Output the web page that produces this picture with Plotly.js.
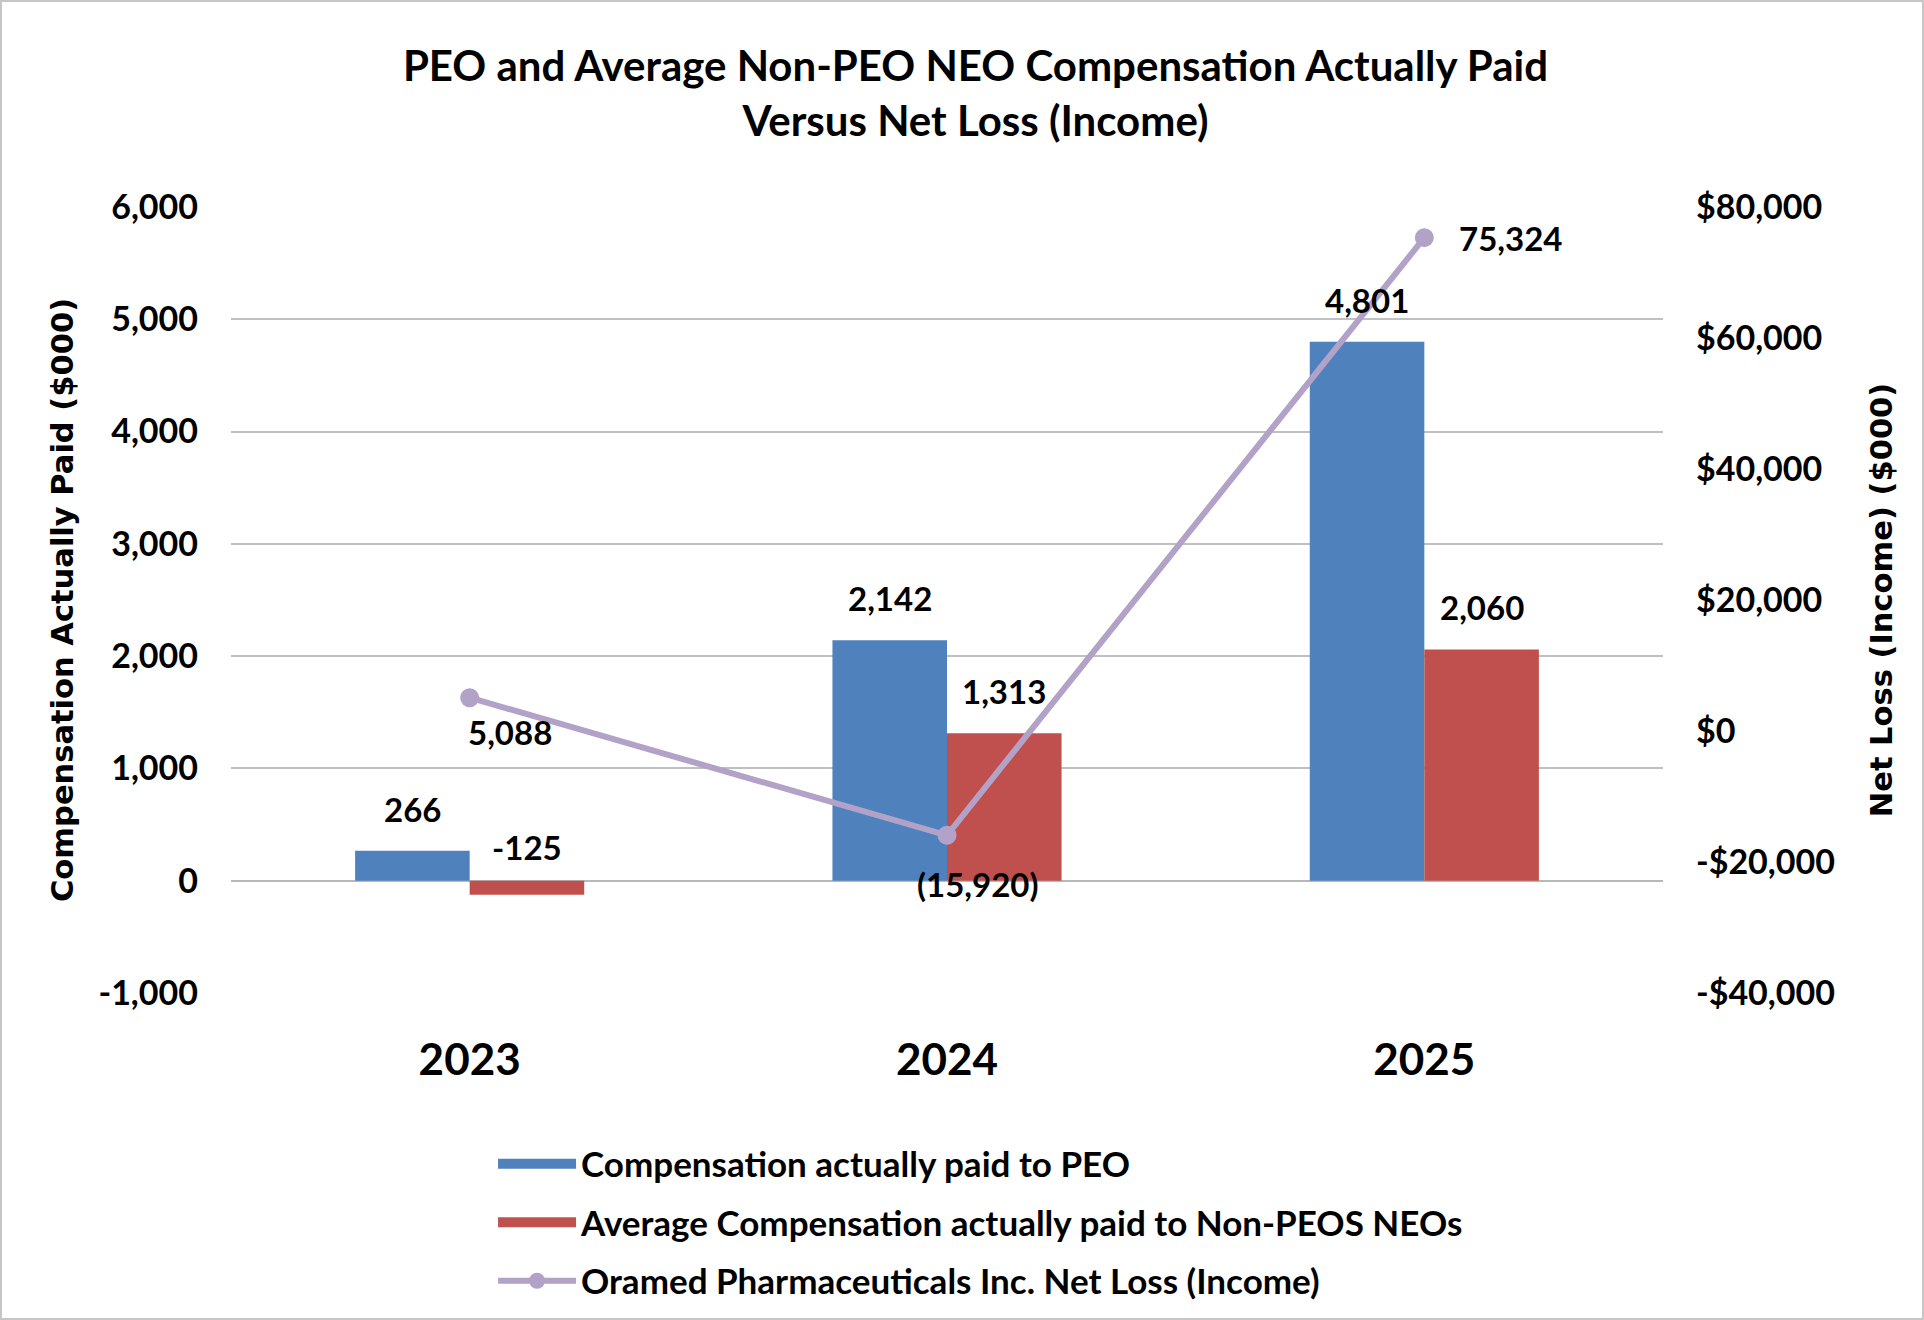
<!DOCTYPE html>
<html>
<head>
<meta charset="utf-8">
<script src="https://cdn.plot.ly/plotly-3.0.1.min.js"></script>
<style>
    html, body { margin: 0; background: #fff; overflow: hidden; }
    #chart1 { width: 1924px; height: 1400px; }
    #frame { position: fixed; left: 0; top: 0; width: 1924px; height: 1320px;
             border: 2px solid #c6c6c6; box-sizing: border-box; pointer-events: none; }
</style>
</head>
<body>
<div id="chart1"></div>
<div id="frame"></div>
<script>
var years = ["2023", "2024", "2025"];
var peoPaid = [266, 2142, 4801];
var neoPaid = [-125, 1313, 2060];
var netLoss = [5088, -15920, 75324];
var leftTicks = [-1000, 0, 1000, 2000, 3000, 4000, 5000, 6000];
var rightTicks = [-40000, -20000, 0, 20000, 40000, 60000, 80000];

var peoName = "Compensation actually paid to PEO";
var neoName = "Average Compensation actually paid to Non-PEOS NEOs";
var lossName = "Oramed Pharmaceuticals Inc. Net Loss (Income)";

var blue = "#4F81BD", red = "#C0504D", purple = "#B3A2C7";
var labelFont = {family: "Lato", size: 33, color: "#000", weight: "bold"};

function fmt(v) {
    var s = Math.abs(v).toString().replace(/\B(?=(\d{3})+(?!\d))/g, ",");
    return (v < 0 ? "-" : "") + s;
}
function fmtDollar(v) {
    return (v < 0 ? "-$" : "$") + fmt(Math.abs(v));
}
function fmtParen(v) {
    return v < 0 ? "(" + fmt(-v) + ")" : fmt(v);
}

var chartData = [{
    type: "bar",
    name: peoName,
    x: years,
    y: peoPaid,
    marker: {color: blue},
    showlegend: false,
    hoverinfo: "none"
}, {
    type: "bar",
    name: neoName,
    x: years,
    y: neoPaid,
    marker: {color: red},
    showlegend: false,
    hoverinfo: "none"
}, {
    type: "scatter",
    mode: "lines+markers",
    name: lossName,
    x: years,
    y: netLoss,
    yaxis: "y2",
    line: {color: purple, width: 6},
    marker: {color: purple, size: 19},
    legendrank: 3,
    hoverinfo: "none"
}, {
    // legend swatches for the bars (wide blocks like the original)
    type: "scatter", mode: "lines", name: peoName,
    x: [null], y: [null],
    line: {color: blue, width: 20},
    legendrank: 1, hoverinfo: "none"
}, {
    type: "scatter", mode: "lines", name: neoName,
    x: [null], y: [null],
    line: {color: red, width: 20},
    legendrank: 2, hoverinfo: "none"
}];
chartData.forEach(function(t, i) { t.legendgroup = "g" + i; });

// data labels (negative bars keep their label just above the zero line)
var annotations = [];
var i;
function barLabel(x, v) {
    return {x: x, y: Math.max(v, 0), xref: "x", yref: "y",
        text: fmt(v), showarrow: false, yanchor: "bottom",
        yshift: v < 0 ? 12 : 20, font: labelFont};
}
for (i = 0; i < years.length; i++) {
    annotations.push(barLabel(i - 0.12, peoPaid[i]));
    annotations.push(barLabel(i + 0.12, neoPaid[i]));
}
var lineShift = [[40, -34], [31, -49], [86, 0]];
for (i = 0; i < years.length; i++) {
    annotations.push({x: i, y: netLoss[i], xref: "x", yref: "y2",
        text: fmtParen(netLoss[i]), showarrow: false,
        xshift: lineShift[i][0], yshift: lineShift[i][1], font: labelFont});
}

var tickFont = {family: "Lato", size: 34, color: "#000", weight: "bold"};
var axisTitleFont = {family: "DejaVu Sans", size: 30.5, color: "#000", weight: "bold"};

var chartLayout = {
    width: 1924,
    height: 1400,
    paper_bgcolor: "#fff",
    plot_bgcolor: "#fff",
    margin: {l: 231, r: 261, t: 207, b: 407},
    title: {
        text: "PEO and Average Non-PEO NEO Compensation Actually Paid<br>Versus Net Loss (Income)",
        font: {family: "Lato", size: 42, color: "#000", weight: "bold"},
        xref: "container", x: 0.507, xanchor: "center",
        yref: "container", y: 0.942, yanchor: "top"
    },
    barmode: "group",
    bargap: 0.52,
    bargroupgap: 0,
    showlegend: true,
    legend: {
        x: 0.183, xanchor: "left",
        y: -0.18, yanchor: "top",
        font: {family: "Lato", size: 35, color: "#000", weight: "bold"},
        tracegroupgap: 10,
        itemwidth: 78,
        traceorder: "grouped"
    },
    xaxis: {
        type: "category",
        tickfont: {family: "Lato", size: 44, color: "#000", weight: "bold"},
        ticks: "",
        ticklabelstandoff: 37,
        showline: false,
        showgrid: false,
        fixedrange: true
    },
    yaxis: {
        range: [-1000, 6000],
        tickvals: leftTicks,
        ticktext: leftTicks.map(fmt),
        tickfont: tickFont,
        ticks: "",
        ticklabelstandoff: 32,
        showgrid: true,
        gridcolor: "#c0c0c0",
        gridwidth: 2,
        zeroline: true,
        zerolinecolor: "#b8b8b8",
        zerolinewidth: 2,
        showline: false,
        title: {text: "Compensation Actually Paid ($000)", font: axisTitleFont, standoff: 15},
        fixedrange: true
    },
    yaxis2: {
        overlaying: "y",
        side: "right",
        range: [-40000, 80000],
        tickvals: rightTicks,
        ticktext: rightTicks.map(fmtDollar),
        tickfont: tickFont,
        ticks: "",
        ticklabelstandoff: 32,
        showgrid: false,
        zeroline: false,
        showline: false,
        title: {text: "Net Loss (Income) ($000)", font: axisTitleFont, standoff: 36},
        fixedrange: true
    },
    annotations: annotations
};

var chartConfig = {displayModeBar: false, staticPlot: true};

Plotly.newPlot("chart1", chartData, chartLayout, chartConfig);
</script>
</body>
</html>
